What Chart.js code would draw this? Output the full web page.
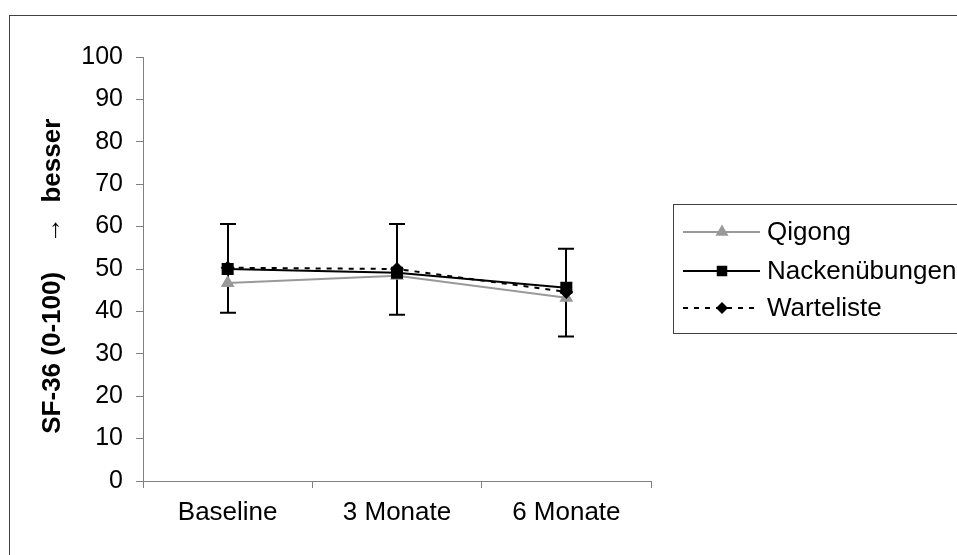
<!DOCTYPE html>
<html>
<head>
<meta charset="utf-8">
<script src="https://cdn.jsdelivr.net/npm/chart.js@4/dist/chart.umd.min.js"></script>
<style>
  html, body { margin: 0; padding: 0; background: #fff; }
</style>
</head>
<body>
<canvas id="chart" width="957" height="555"></canvas>
<script>
const timepoints = ['Baseline', '3 Monate', '6 Monate'];
const seriesNames = ['Qigong', 'Nackenübungen', 'Warteliste'];
const qigong = [46.7, 48.4, 43.2];
const nacken = [50.0, 49.1, 45.6];
const warteliste = [50.3, 50.0, 44.6];
// error bar ends (one bar per time point)
const errLow = [39.7, 39.2, 34.1];
const errHigh = [60.6, 60.6, 54.8];
const yMin = 0, yMax = 100, yStep = 10;

const FONT = "'Liberation Sans', Arial, sans-serif";
const AXIS = '#808080';

// outer frame
const framePlugin = {
  id: 'frame',
  beforeDraw(chart) {
    const ctx = chart.ctx;
    ctx.save();
    ctx.fillStyle = '#fff';
    ctx.fillRect(0, 0, chart.width, chart.height);
    ctx.strokeStyle = '#404040';
    ctx.lineWidth = 1;
    ctx.strokeRect(9.5, 15.5, 1200, 1200);
    ctx.restore();
  }
};

// vertical error bars with caps
const errorBars = {
  id: 'errorBars',
  beforeDatasetsDraw(chart) {
    const { ctx, scales: { x, y } } = chart;
    ctx.save();
    ctx.strokeStyle = '#000';
    ctx.lineWidth = 2;
    errLow.forEach((lo, i) => {
      const px = Math.round(x.getPixelForValue(i));
      const yl = y.getPixelForValue(lo), yh = y.getPixelForValue(errHigh[i]);
      ctx.beginPath();
      ctx.moveTo(px, yl); ctx.lineTo(px, yh);
      ctx.moveTo(px - 8, yl); ctx.lineTo(px + 8, yl);
      ctx.moveTo(px - 8, yh); ctx.lineTo(px + 8, yh);
      ctx.stroke();
    });
    ctx.restore();
  }
};

function marker(ctx, style, cx, cy, r, color) {
  ctx.fillStyle = color;
  ctx.beginPath();
  if (style === 'triangle') {
    ctx.moveTo(cx, cy - r);
    ctx.lineTo(cx + r * 0.866, cy + r / 2);
    ctx.lineTo(cx - r * 0.866, cy + r / 2);
  } else if (style === 'rect') {
    ctx.rect(cx - r * 0.7, cy - r * 0.7, r * 1.4, r * 1.4);
  } else {
    ctx.moveTo(cx, cy - r); ctx.lineTo(cx + r, cy);
    ctx.lineTo(cx, cy + r); ctx.lineTo(cx - r, cy);
  }
  ctx.closePath();
  ctx.fill();
}

// boxed legend on the right
const boxLegend = {
  id: 'boxLegend',
  afterDraw(chart) {
    const ctx = chart.ctx;
    ctx.save();
    ctx.strokeStyle = '#404040';
    ctx.lineWidth = 1;
    ctx.strokeRect(673.5, 204.5, 400, 129);
    const rows = [232, 271, 308];
    chart.data.datasets.forEach((ds, k) => {
      const ly = rows[k];
      ctx.strokeStyle = ds.borderColor;
      ctx.lineWidth = ds.borderWidth;
      ctx.setLineDash(ds.borderDash || []);
      ctx.beginPath();
      ctx.moveTo(683, ly); ctx.lineTo(760, ly);
      ctx.stroke();
      ctx.setLineDash([]);
      marker(ctx, ds.pointStyle, 722, ly, ds.pointStyle === 'rectRot' ? 6 : 7.5, ds.pointBackgroundColor);
      ctx.fillStyle = '#000';
      ctx.font = '26px ' + FONT;
      ctx.textBaseline = 'alphabetic';
      ctx.textAlign = 'left';
      ctx.fillText(ds.label, 767, ly + 8);
    });
    ctx.restore();
  }
};

new Chart(document.getElementById('chart'), {
  type: 'line',
  data: {
    labels: timepoints,
    datasets: [
      {
        label: seriesNames[0], data: qigong, order: 2,
        borderColor: '#999999', borderWidth: 2,
        pointStyle: 'triangle', pointRadius: 8,
        pointBackgroundColor: '#999999', pointBorderColor: '#999999', pointBorderWidth: 0
      },
      {
        label: seriesNames[1], data: nacken, order: 0,
        borderColor: '#000000', borderWidth: 2,
        pointStyle: 'rect', pointRadius: 8.5,
        pointBackgroundColor: '#000000', pointBorderColor: '#000000', pointBorderWidth: 0
      },
      {
        label: seriesNames[2], data: warteliste, order: 1,
        borderColor: '#000000', borderWidth: 2, borderDash: [5, 6],
        pointStyle: 'rectRot', pointRadius: 7,
        pointBackgroundColor: '#000000', pointBorderColor: '#000000', pointBorderWidth: 0
      }
    ]
  },
  options: {
    responsive: false,
    animation: false,
    devicePixelRatio: 1,
    layout: { padding: { left: 0, top: 57, right: 306, bottom: 0 } },
    plugins: { legend: { display: false }, tooltip: { enabled: false } },
    elements: { line: { tension: 0 } },
    scales: {
      x: {
        offset: true,
        grid: { offset: true, drawOnChartArea: false, color: AXIS, tickLength: 7, tickColor: AXIS },
        border: { color: AXIS, width: 1 },
        ticks: { color: '#000', font: { family: FONT, size: 26 }, padding: 9, maxRotation: 0 },
        afterFit: s => { s.height = 74; }
      },
      y: {
        min: yMin, max: yMax,
        grid: { drawOnChartArea: false, color: AXIS, tickLength: 7, tickColor: AXIS },
        border: { color: AXIS, width: 1 },
        ticks: { stepSize: yStep, color: '#000', font: { family: FONT, size: 25 }, padding: 13 },
        title: {
          display: true,
          text: 'SF-36 (0-100)    \u2192  besser  ',
          color: '#000',
          font: { family: FONT, size: 26, weight: 'bold' },
          padding: { top: 37, bottom: 0 }
        },
        afterFit: s => { s.width = 143; }
      }
    }
  },
  plugins: [framePlugin, errorBars, boxLegend]
});
</script>
</body>
</html>
